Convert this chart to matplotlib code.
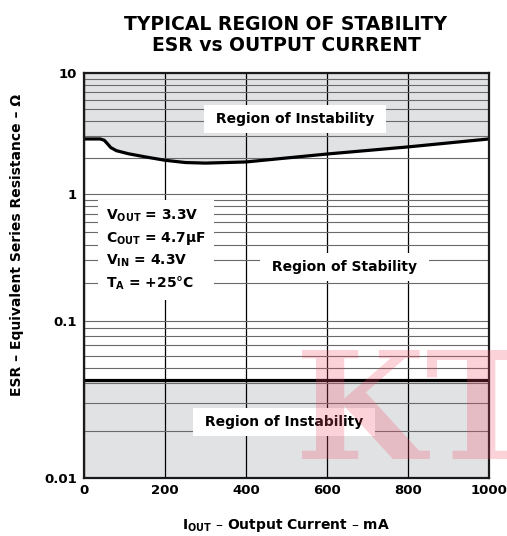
import numpy as np
import matplotlib
matplotlib.use("Agg")
import matplotlib.pyplot as plt
from matplotlib.ticker import FixedLocator, FixedFormatter, LogLocator, NullFormatter

# ---- data ----
i_out = [0, 40, 50, 58, 66, 80, 110, 150, 200, 250, 300, 400, 600, 800, 1000]
esr_max = [2.85, 2.85, 2.78, 2.6, 2.42, 2.28, 2.15, 2.03, 1.9, 1.82, 1.80, 1.84, 2.14, 2.45, 2.85]
esr_min = 0.042
x_ticks = [0, 200, 400, 600, 800, 1000]
x_tick_labels = ["0", "200", "400", "600", "800", "1000"]
y_ticks = [0.01, 0.1, 1, 10]
y_tick_labels = ["0.01", "0.1", "1", "10"]

plt.rcParams['font.family'] = ['DejaVu Sans']
plt.rcParams['font.weight'] = 'bold'
plt.rcParams['mathtext.fontset'] = 'dejavusans'

fig = plt.figure(figsize=(5.07, 5.36), dpi=100)
ax = fig.add_axes([84/507, 58/536, 405/507, 405/536])

# Non-uniform decades as drawn in the original datasheet graph
dec_log = [-2, -1, 0, 1]
dec_pos = [0, 157, 284, 405]
def fwd(y):
    y = np.asarray(y, dtype=float)
    return np.interp(np.log10(np.clip(y, 1e-12, None)), dec_log, dec_pos)
def inv(v):
    return 10 ** np.interp(np.asarray(v, dtype=float), dec_pos, dec_log)

ax.set_yscale('function', functions=(fwd, inv))
ax.set_xlim(0, 1000)
ax.set_ylim(0.01, 10)

gray = '#e1e2e4'
ax.fill_between(i_out, esr_max, 10, color=gray, lw=0, zorder=0.5)
ax.axhspan(0.01, esr_min, color=gray, lw=0, zorder=0.5)

ax.yaxis.set_major_locator(FixedLocator(y_ticks))
ax.yaxis.set_major_formatter(FixedFormatter(y_tick_labels))
ax.yaxis.set_minor_locator(LogLocator(base=10, subs=np.arange(2, 10)))
ax.yaxis.set_minor_formatter(NullFormatter())
ax.xaxis.set_major_locator(FixedLocator(x_ticks))
ax.xaxis.set_major_formatter(FixedFormatter(x_tick_labels))

ax.grid(True, axis='y', which='both', color='#6a6a6a', lw=0.8, zorder=1)
ax.grid(True, axis='x', which='major', color='black', lw=0.9, zorder=1)
ax.set_axisbelow(True)

ax.plot(i_out, esr_max, color='black', lw=2.3, zorder=3, solid_capstyle='butt')
ax.axhline(esr_min, color='black', lw=2.3, zorder=3)

ax.tick_params(axis='both', which='both', length=0, labelsize=9.5)
ax.tick_params(axis='y', pad=5)
ax.tick_params(axis='x', pad=4)
for lab in ax.get_xticklabels() + ax.get_yticklabels():
    lab.set_fontweight('bold')
for s in ax.spines.values():
    s.set_linewidth(1.6)
    s.set_color('#1a1a1a')
    s.set_zorder(4)

box = dict(facecolor='white', edgecolor='none', boxstyle='square,pad=0.5')
ax.text(0.521, 0.886, " Region of Instability ", transform=ax.transAxes, ha='center', va='center',
        fontsize=10, fontweight='bold', bbox=box, zorder=5)
ax.text(0.644, 0.521, " Region of Stability ", transform=ax.transAxes, ha='center', va='center',
        fontsize=10, fontweight='bold', bbox=box, zorder=5)
ax.text(0.494, 0.138, " Region of Instability ", transform=ax.transAxes, ha='center', va='center',
        fontsize=10, fontweight='bold', bbox=box, zorder=5)

cond = ("$\\mathbf{V_{OUT}}$ = 3.3V\n"
        "$\\mathbf{C_{OUT}}$ = 4.7μF\n"
        "$\\mathbf{V_{IN}}$ = 4.3V\n"
        "$\\mathbf{T_{A}}$ = +25°C")
ax.text(0.054, 0.563, cond, transform=ax.transAxes, ha='left', va='center',
        fontsize=10, fontweight='bold', linespacing=1.45,
        bbox=dict(facecolor='white', edgecolor='none', boxstyle='square,pad=0.6'), zorder=5)

fig.text(286/507, 1 - 35/536, "TYPICAL REGION OF STABILITY\nESR vs OUTPUT CURRENT",
         ha='center', va='center', fontsize=13.5, fontweight='bold', linespacing=1.1)
fig.text(286/507, 1 - 525/536, "$\\mathbf{I_{OUT}}$ – Output Current – mA",
         ha='center', va='center', fontsize=10, fontweight='bold')
fig.text(17/507, 1 - 245/536, "ESR – Equivalent Series Resistance – Ω",
         ha='center', va='center', rotation=90, fontsize=10, fontweight='bold')

# watermark
fig.text(295/507, 77/536, "KT", ha='left', va='baseline', fontsize=108,
         fontweight='bold', family='DejaVu Serif', color=(0.95, 0.3, 0.4), alpha=0.25, zorder=10)

fig.savefig("out.png", dpi=100)
